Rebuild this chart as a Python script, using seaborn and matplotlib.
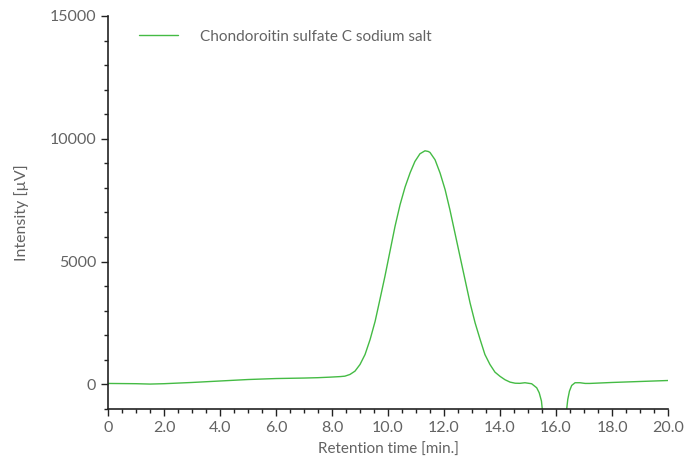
import matplotlib.pyplot as plt
import matplotlib.ticker as mticker
import pandas as pd
import seaborn as sns

# chromatogram trace (time in min, intensity in uV)
rt = [0.0, 1.0, 1.5, 2.0, 3.0, 4.0, 5.0, 6.0, 7.0, 7.5, 7.93, 8.3, 8.46,
      8.64, 8.82, 9.0, 9.18, 9.36, 9.54, 9.71, 9.89, 10.07, 10.25, 10.43,
      10.61, 10.79, 10.96, 11.14, 11.32, 11.44, 11.5, 11.68, 11.86, 12.04,
      12.21, 12.39, 12.57, 12.75, 12.93, 13.11, 13.29, 13.46, 13.64, 13.82,
      14.0, 14.18, 14.36, 14.54, 14.71, 14.89, 15.13, 15.31, 15.40, 15.48,
      15.51, 15.6, 16.3, 16.38, 16.42, 16.48, 16.56, 16.68, 16.86, 17.04,
      17.21, 18.0, 19.0, 20.0]
intensity = [40, 30, 15, 30, 80, 140, 200, 240, 260, 275, 297, 320, 337,
             406, 541, 813, 1220, 1829, 2573, 3455, 4402, 5419, 6435, 7317,
             8040, 8620, 9077, 9390, 9512, 9484, 9444, 9146, 8604, 7927,
             7114, 6166, 5215, 4268, 3321, 2508, 1829, 1220, 813, 500,
             330, 190, 94, 50, 45, 69, 28, -136, -340, -677,
             -1016, -3000, -3000, -1016, -610, -271, -41, 69, 69, 41,
             41, 80, 120, 160]
series_name = 'Chondoroitin sulfate C sodium salt'

df = pd.DataFrame({'time': rt, 'value': intensity})

sns.set_style('ticks')
plt.rcParams['font.family'] = ['Lato', 'DejaVu Sans']
text_grey = '#636363'

fig = plt.figure(figsize=(6.85, 4.61), dpi=100)
ax = fig.add_axes([0.1577, 0.1128, 0.8175, 0.8525])

sns.lineplot(data=df, x='time', y='value', ax=ax, color='#44bb44',
             linewidth=1.0, label=series_name, sort=False)

ax.set_xlim(0, 20)
ax.set_ylim(-1000, 15000)
ax.xaxis.set_major_locator(mticker.MultipleLocator(2))
ax.xaxis.set_minor_locator(mticker.MultipleLocator(0.5))
ax.yaxis.set_major_locator(mticker.FixedLocator([0, 5000, 10000, 15000]))
ax.yaxis.set_minor_locator(mticker.MultipleLocator(1000))
ax.xaxis.set_major_formatter(mticker.FuncFormatter(
    lambda v, p: '0' if v == 0 else f'{v:.1f}'))
ax.yaxis.set_major_formatter(mticker.FuncFormatter(lambda v, p: f'{v:.0f}'))

ax.tick_params(which='major', length=5, width=1, colors='#222222',
               labelcolor=text_grey, labelsize=11.5)
ax.tick_params(which='minor', length=3, width=1, colors='#222222')
for s in ['left', 'bottom']:
    ax.spines[s].set_color('#222222')
    ax.spines[s].set_linewidth(1.2)
sns.despine(ax=ax)

ax.set_xlabel('Retention time [min.]', color=text_grey, fontsize=11,
              labelpad=6)
ax.set_ylabel('Intensity [\u00b5V]', color=text_grey, fontsize=11.5,
              labelpad=15)

leg = ax.legend(loc='upper left', bbox_to_anchor=(0.03, 1.0), frameon=False,
                handlelength=2.6, handletextpad=1.4, fontsize=11)
for t in leg.get_texts():
    t.set_color(text_grey)

fig.savefig('out.png', dpi=100)
